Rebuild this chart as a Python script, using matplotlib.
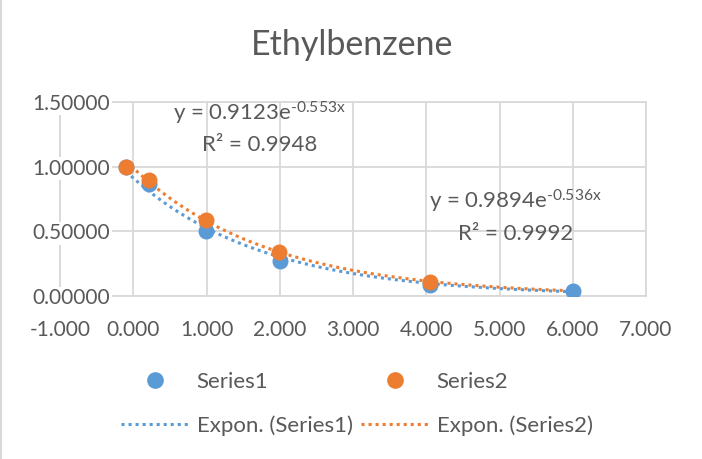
import numpy as np
import matplotlib
matplotlib.use("Agg")
import matplotlib.pyplot as plt
from matplotlib.lines import Line2D

plt.rcParams['font.family'] = ['Lato', 'DejaVu Sans']
plt.rcParams['mathtext.fontset'] = 'custom'
plt.rcParams['mathtext.rm'] = 'Lato'
plt.rcParams['mathtext.it'] = 'Lato'

# data
x1 = [-0.1, 0.22, 0.99, 2.0, 4.05, 6.0]
y1 = [1.0, 0.866, 0.505, 0.273, 0.085, 0.04]
x2 = [-0.1, 0.22, 0.99, 1.99, 4.05]
y2 = [1.0, 0.897, 0.588, 0.343, 0.11]

# exponential trendlines y = a * exp(b x) as printed on the chart
fit1 = (0.9123, -0.553, 0.9948)
fit2 = (0.9894, -0.536, 0.9992)
trend_end = 6.0

x_ticks = [-1, 0, 1, 2, 3, 4, 5, 6, 7]
y_ticks = [0.0, 0.5, 1.0, 1.5]

blue = '#5B9BD5'
orange = '#ED7D31'
grey = '#595959'
grid = '#D9D9D9'

fig = plt.figure(figsize=(7.02, 4.59), dpi=100)
ax = fig.add_axes([60 / 702, 1 - 296 / 459, (646 - 60) / 702, (296 - 102) / 459])

dots = dict(lw=2.2, linestyle=(0, (1, 1.3)), dash_capstyle='butt')

for xs, ys, fit, col in [(x1, y1, fit1, blue), (x2, y2, fit2, orange)]:
    xt = np.linspace(min(xs), trend_end, 200)
    ax.plot(xt, fit[0] * np.exp(fit[1] * xt), color=col, zorder=2, **dots)

ax.plot(x1, y1, 'o', color=blue, ms=10.5, zorder=3)
ax.plot(x2, y2, 'o', color=orange, ms=10.5, zorder=4)

ax.set_xlim(-1, 7)
ax.set_ylim(0, 1.5)
ax.set_xticks(x_ticks)
ax.set_yticks(y_ticks)
ax.xaxis.set_major_formatter(matplotlib.ticker.FuncFormatter(lambda v, p: f'{v:.3f}'))
ax.grid(True, color=grid, lw=1.3, zorder=0)
ax.set_axisbelow(True)
for s in ax.spines.values():
    s.set_color(grid)
    s.set_linewidth(1.3)
ax.tick_params(length=0, labelsize=15, labelcolor=grey, labelleft=False)
ax.tick_params(axis='x', pad=17)

# vertical axis crosses at x = 0: its labels sit left of that line, on white
for v in y_ticks:
    ax.annotate(f'{v:.5f}', xy=(0, v), xytext=(-16.5, 0), textcoords='offset points',
                ha='right', va='center_baseline', fontsize=15, color=grey,
                bbox=dict(facecolor='white', edgecolor='none', pad=1),
                annotation_clip=False, zorder=5)

# trendline labels
ax.text(1.72, 1.415, f'y = {fit1[0]}e$^{{\\text{{{fit1[1]}x}}}}$', ha='center', va='center',
        fontsize=16, color=grey)
ax.text(1.72, 1.165, f'R² = {fit1[2]}', ha='center', va='center', fontsize=16, color=grey)
ax.text(5.215, 0.735, f'y = {fit2[0]}e$^{{\\text{{{fit2[1]}x}}}}$', ha='center', va='center',
        fontsize=16, color=grey)
ax.text(5.215, 0.48, f'R² = {fit2[2]}', ha='center', va='center', fontsize=16, color=grey)

fig.text(0.501, 0.902, 'Ethylbenzene', ha='center', va='center', fontsize=24.5, color=grey)

# legend: two columns, each as its own legend so the columns line up
leg_kw = dict(loc='center left', frameon=False, fontsize=16, labelcolor=grey,
              handlelength=3.05, handletextpad=0.36, labelspacing=1.05, borderpad=0,
              borderaxespad=0)
col1 = [Line2D([], [], marker='o', color=blue, ls='none', ms=11),
        Line2D([], [], color=blue, **dots)]
col2 = [Line2D([], [], marker='o', color=orange, ls='none', ms=11),
        Line2D([], [], color=orange, **dots)]
fig.legend(col1, ['Series1', 'Expon. (Series1)'], bbox_to_anchor=(121 / 702, 1 - 404 / 459), **leg_kw)
fig.legend(col2, ['Series2', 'Expon. (Series2)'], bbox_to_anchor=(361 / 702, 1 - 404 / 459), **leg_kw)

fig.add_artist(Line2D([0.002, 0.002], [0, 1], color=grid, lw=1.5))

fig.savefig('out.png', dpi=100)
